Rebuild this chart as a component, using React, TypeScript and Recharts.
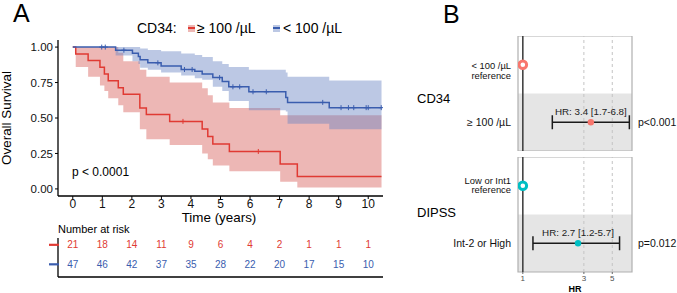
import React from 'react';
import {
  ComposedChart,
  Area,
  Line,
  Scatter,
  XAxis,
  YAxis,
  ReferenceArea,
  ReferenceLine,
  ErrorBar
} from 'recharts';

const FONT = '"Liberation Sans", Arial, Helvetica, sans-serif';
const RED = '#E03A33';
const BLUE = '#3A5DAE';
const RED_BAND = '#D8605A';
const BLUE_BAND = '#6A86C4';

// Kaplan-Meier steps (CD34 >= 100 /uL)
const highTimes = [0, 0.1, 0.52, 0.92, 1.07, 1.2, 1.54, 1.71, 2.27, 2.49, 3.28, 4.38, 4.57, 4.74, 5.3, 7.02, 7.6];
const highSurv = [1, 0.952, 0.905, 0.857, 0.81, 0.762, 0.714, 0.667, 0.571, 0.524, 0.476, 0.423, 0.37, 0.317, 0.264, 0.176, 0.088];
const highLower = [1, 0.86, 0.79, 0.73, 0.69, 0.64, 0.59, 0.54, 0.42, 0.35, 0.31, 0.25, 0.21, 0.165, 0.125, 0.05, 0.01];
const highUpper = [1, 1, 1, 1, 1, 1, 0.96, 0.9, 0.84, 0.79, 0.75, 0.71, 0.66, 0.61, 0.57, 0.52, 0.52];
const highCensor = [3.73, 6.28];

// CD34 < 100 /uL
const lowTimes = [0, 1.45, 2.02, 2.22, 2.28, 2.54, 2.99, 3.67, 4.13, 4.38, 4.74, 5.06, 5.28, 5.96, 7.21, 7.27, 8.68];
const lowSurv = [1, 0.978, 0.956, 0.934, 0.911, 0.889, 0.866, 0.842, 0.83, 0.81, 0.785, 0.757, 0.72, 0.685, 0.645, 0.61, 0.573];
const lowLower = [1, 0.94, 0.9, 0.88, 0.855, 0.84, 0.82, 0.8, 0.78, 0.77, 0.72, 0.69, 0.62, 0.555, 0.545, 0.46, 0.42];
const lowUpper = [1, 1, 1, 1, 0.99, 0.98, 0.97, 0.955, 0.945, 0.93, 0.9, 0.88, 0.86, 0.84, 0.82, 0.79, 0.765];
const lowCensor = [0.98, 1.1, 1.73, 2.88, 3.78, 4.04, 4.97, 5.42, 5.65, 6.1, 6.55, 8.46, 9.08, 9.33, 9.51, 9.93, 10.0, 10.44];

const endTime = 10.45;
const yearTicks = [0, 1, 2, 3, 4, 5, 6, 7, 8, 9, 10];
const survTicks = [0, 0.25, 0.5, 0.75, 1];

// number at risk
const riskHigh = [21, 18, 14, 11, 9, 6, 4, 2, 1, 1, 1];
const riskLow = [47, 46, 42, 37, 35, 28, 22, 20, 17, 15, 10];

// forest plot (panel B)
const groups = ['CD34', 'DIPSS'];
const refLabels = [['< 100 /µL', 'reference'], ['Low or Int1', 'reference']];
const compLabels = ['≥ 100 /µL', 'Int-2 or High'];
const hrValues = [3.4, 2.7];
const hrLower = [1.7, 1.2];
const hrUpper = [6.8, 5.7];
const pValues = ['p<0.001', 'p=0.012'];
const groupColors = ['#F8766D', '#00BFC4'];
const hrTicks = [1, 3, 5];
const hrDomain = [0.917, 7.13];

const stepAt = (times: number[], vals: number[], t: number) => {
  let v = vals[0];
  for (let i = 0; i < times.length; i++) if (times[i] <= t) v = vals[i];
  return v;
};

const allTimes = Array.from(new Set([...highTimes, ...lowTimes, endTime])).sort((a, b) => a - b);
const kmData = allTimes.map((t) => ({
  t,
  high: stepAt(highTimes, highSurv, t),
  highBand: [stepAt(highTimes, highLower, t), stepAt(highTimes, highUpper, t)],
  low: stepAt(lowTimes, lowSurv, t),
  lowBand: [stepAt(lowTimes, lowLower, t), stepAt(lowTimes, lowUpper, t)]
}));
const highMarks = highCensor.map((t) => ({ t, s: stepAt(highTimes, highSurv, t) }));
const lowMarks = lowCensor.map((t) => ({ t, s: stepAt(lowTimes, lowSurv, t) }));

const riskPoints = [
  ...yearTicks.map((t, i) => ({ t, row: 1, n: riskHigh[i], c: RED })),
  ...yearTicks.map((t, i) => ({ t, row: 0, n: riskLow[i], c: BLUE }))
];

const plus = (color: string) => (p: any) => (
  <g>
    <line x1={p.cx - 2.5} x2={p.cx + 2.5} y1={p.cy} y2={p.cy} stroke={color} strokeWidth={1} />
    <line x1={p.cx} x2={p.cx} y1={p.cy - 2.5} y2={p.cy + 2.5} stroke={color} strokeWidth={1} />
  </g>
);

const Txt = ({ x, y, size, anchor = 'start', bold = false, color = '#000', children }: any) => {
  const tx = anchor === 'middle' ? '-50%' : anchor === 'end' ? '-100%' : '0';
  return (
    <div
      style={{
        position: 'absolute',
        left: x,
        top: y,
        transform: `translate(${tx},-50%)`,
        fontSize: size,
        lineHeight: 1,
        whiteSpace: 'nowrap',
        fontWeight: bold ? 700 : 400,
        color
      }}
    >
      {children}
    </div>
  );
};

const LegendKey = ({ x, y, fill, line }: any) => (
  <div style={{ position: 'absolute', left: x, top: y - 3.5, width: 7, height: 7, background: fill }}>
    <div style={{ position: 'absolute', left: 0, right: 0, top: 2.5, height: 2, background: line }} />
  </div>
);

const ForestPanel = ({ idx, top, showAxis, refOffsets }: any) => {
  const color = groupColors[idx];
  const comp = [{
    hr: hrValues[idx],
    y: 0.5,
    err: [hrValues[idx] - hrLower[idx], hrUpper[idx] - hrValues[idx]],
    label: `HR: ${hrValues[idx].toFixed(1)} [${hrLower[idx].toFixed(1)}-${hrUpper[idx].toFixed(1)}]`
  }];
  const ref = [{ hr: 1, y: 1.5 }];
  const pRow = [{ hr: 1, y: 0.5 }];
  const axisH = showAxis ? 21 : 0;

  const rowTick = (p: any) => {
    if (p.payload.value > 1) {
      const lines = refLabels[idx];
      return (
        <g>
          {lines.map((l: string, i: number) => (
            <text key={i} x={p.x} y={p.y + refOffsets[i] + 3.2} textAnchor="end" fontSize={9.4} fill="#111" fontFamily={FONT}>
              {l}
            </text>
          ))}
        </g>
      );
    }
    return (
      <text x={p.x} y={p.y + 3.7} textAnchor="end" fontSize={10.5} fill="#111" fontFamily={FONT}>
        {compLabels[idx]}
      </text>
    );
  };

  return (
    <div style={{ position: 'absolute', left: 420, top }}>
      <ComposedChart width={257} height={115 + axisH} margin={{ top: 0, right: 0, bottom: 0, left: 0 }}>
        <XAxis
          dataKey="hr"
          type="number"
          scale="log"
          domain={hrDomain}
          allowDataOverflow
          ticks={hrTicks}
          hide={!showAxis}
          height={axisH}
          axisLine={false}
          tickSize={2}
          tickMargin={1}
          tickLine={{ stroke: '#666' }}
          tick={{ fontSize: 8, fill: '#4d4d4d', fontFamily: FONT }}
          interval={0}
        />
        <YAxis
          type="number"
          domain={[0, 2]}
          ticks={[0.5, 1.5]}
          width={98}
          axisLine={false}
          tickLine={false}
          tickSize={0}
          tickMargin={7}
          tick={rowTick}
          interval={0}
        />
        <YAxis
          yAxisId="p"
          orientation="right"
          type="number"
          domain={[0, 2]}
          ticks={[0.5]}
          width={45}
          axisLine={false}
          tickLine={false}
          tickSize={0}
          tickMargin={6}
          interval={0}
          tick={(p: any) => (
            <text x={p.x} y={p.y + 3.7} textAnchor="start" fontSize={10.5} fill="#111" fontFamily={FONT}>
              {pValues[idx]}
            </text>
          )}
        />
        <ReferenceArea x1={hrDomain[0]} x2={hrDomain[1]} y1={0} y2={1} fill="#E5E5E5" fillOpacity={1} stroke="none" />
        <ReferenceLine x={3} stroke="#c4c4c4" strokeDasharray="3 3" />
        <ReferenceLine x={5} stroke="#c4c4c4" strokeDasharray="3 3" />
        <ReferenceLine x={1} stroke="#444" strokeWidth={1.6} />
        <ReferenceArea x1={hrDomain[0]} x2={hrDomain[1]} y1={0} y2={2} fill="none" stroke="#b0b0b0" strokeWidth={1.2} />
        <Scatter
          data={comp}
          dataKey="y"
          isAnimationActive={false}
          shape={(p: any) => (
            <g>
              <circle cx={p.cx} cy={p.cy} r={3.2} fill={color} />
              <text x={p.cx} y={p.cy - 7} textAnchor="middle" fontSize={9.8} fill="#222" fontFamily={FONT}>
                {p.payload.label}
              </text>
            </g>
          )}
        >
          <ErrorBar dataKey="err" direction="x" width={7} stroke="#1a1a1a" strokeWidth={1.5} />
        </Scatter>
        <Scatter
          data={ref}
          dataKey="y"
          isAnimationActive={false}
          shape={(p: any) => <circle cx={p.cx} cy={p.cy} r={3.8} fill="#fff" stroke={color} strokeWidth={3} />}
        />
        <Scatter data={pRow} dataKey="y" yAxisId="p" isAnimationActive={false} shape={() => <g />} />
      </ComposedChart>
    </div>
  );
};

export default function App() {
  return (
    <div style={{ position: 'relative', width: 677, height: 293, fontFamily: FONT, background: '#fff', overflow: 'hidden' }}>
      <style>{'body{margin:0}'}</style>

      <Txt x={13} y={13} size={25}>A</Txt>
      <Txt x={443} y={14} size={25}>B</Txt>

      {/* legend */}
      <Txt x={137} y={28} size={14}>CD34:</Txt>
      <LegendKey x={188} y={28} fill="#eeb8b5" line={RED} />
      <Txt x={197} y={28} size={14}>≥ 100 /µL</Txt>
      <LegendKey x={273} y={28} fill="#bcc8e4" line={BLUE} />
      <Txt x={283} y={28} size={14}>{'< 100 /µL'}</Txt>

      <div
        style={{
          position: 'absolute',
          left: 7,
          top: 118,
          transform: 'translate(-50%,-50%) rotate(-90deg)',
          fontSize: 13.4,
          lineHeight: 1,
          whiteSpace: 'nowrap'
        }}
      >
        Overall Survival
      </div>

      <div style={{ position: 'absolute', left: 0, top: 0 }}>
        <ComposedChart width={390} height={215} data={kmData} margin={{ top: 40, right: 7, bottom: 0, left: 0 }}>
          <XAxis
            dataKey="t"
            type="number"
            domain={[-0.5, 10.5]}
            allowDataOverflow
            ticks={yearTicks}
            interval={0}
            height={19}
            tickSize={3}
            tickMargin={0}
            axisLine={{ stroke: '#000', strokeWidth: 1.3 }}
            tickLine={{ stroke: '#000' }}
            tick={{ fontSize: 12, fill: '#111', fontFamily: FONT }}
          />
          <YAxis
            type="number"
            domain={[-0.05, 1.05]}
            allowDataOverflow
            ticks={survTicks}
            interval={0}
            width={58}
            tickSize={3}
            tickMargin={2}
            tickFormatter={(v: number) => v.toFixed(2)}
            axisLine={{ stroke: '#000', strokeWidth: 1.3 }}
            tickLine={{ stroke: '#000' }}
            tick={{ fontSize: 11.5, fill: '#111', fontFamily: FONT }}
          />
          <Area dataKey="highBand" type="stepAfter" fill={RED_BAND} fillOpacity={0.45} stroke="none" isAnimationActive={false} />
          <Area dataKey="lowBand" type="stepAfter" fill={BLUE_BAND} fillOpacity={0.45} stroke="none" isAnimationActive={false} />
          <Line dataKey="high" type="stepAfter" stroke={RED} strokeWidth={1.5} dot={false} isAnimationActive={false} />
          <Line dataKey="low" type="stepAfter" stroke={BLUE} strokeWidth={1.5} dot={false} isAnimationActive={false} />
          <Scatter data={highMarks} dataKey="s" shape={plus(RED)} isAnimationActive={false} />
          <Scatter data={lowMarks} dataKey="s" shape={plus(BLUE)} isAnimationActive={false} />
        </ComposedChart>
      </div>

      <Txt x={72} y={172} size={12}>p &lt; 0.0001</Txt>
      <Txt x={219} y={218} size={13.4} anchor="middle">Time (years)</Txt>

      {/* risk table */}
      <Txt x={58} y={229} size={11}>Number at risk</Txt>
      <div style={{ position: 'absolute', left: 0, top: 236 }}>
        <ComposedChart width={390} height={42} margin={{ top: 2, right: 7, bottom: 0, left: 0 }}>
          <XAxis
            dataKey="t"
            type="number"
            domain={[-0.5, 10.5]}
            allowDataOverflow
            ticks={yearTicks}
            tick={false}
            tickLine={false}
            height={1}
            axisLine={{ stroke: '#000', strokeWidth: 1.3 }}
          />
          <YAxis
            type="number"
            domain={[-0.65, 1.35]}
            ticks={[0, 1]}
            interval={0}
            width={58}
            tickLine={false}
            tickSize={0}
            tickMargin={0}
            axisLine={{ stroke: '#000', strokeWidth: 1.3 }}
            tick={(p: any) => (
              <line x1={p.x - 9} x2={p.x + 1} y1={p.y} y2={p.y} stroke={p.payload.value === 1 ? RED : BLUE} strokeWidth={2.2} />
            )}
          />
          <Scatter
            data={riskPoints}
            dataKey="row"
            isAnimationActive={false}
            shape={(p: any) => (
              <text x={p.cx} y={p.cy + 3.6} textAnchor="middle" fontSize={10} fill={p.payload.c} fontFamily={FONT}>
                {p.payload.n}
              </text>
            )}
          />
        </ComposedChart>
      </div>

      {/* forest plot */}
      <Txt x={417} y={98} size={13}>{groups[0]}</Txt>
      <Txt x={417} y={211.5} size={13}>{groups[1]}</Txt>
      <ForestPanel idx={0} top={36} showAxis={false} refOffsets={[1.5, 11]} />
      <ForestPanel idx={1} top={157} showAxis={true} refOffsets={[-5, 4.5]} />
      <Txt x={575} y={289} size={9} bold anchor="middle">HR</Txt>
    </div>
  );
}
